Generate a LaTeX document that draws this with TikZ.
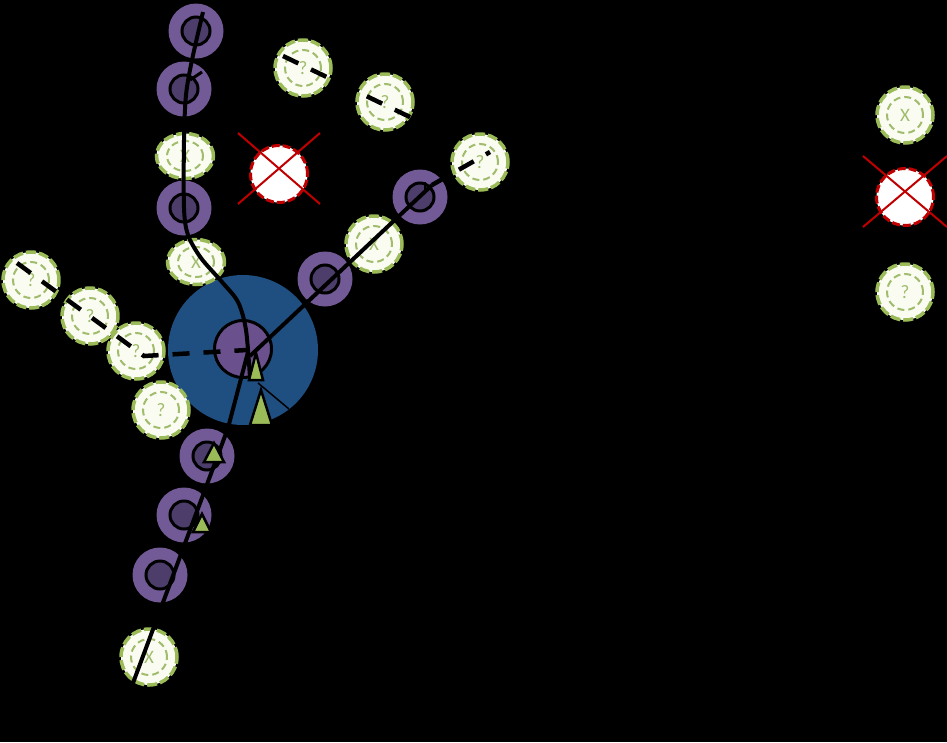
\documentclass[tikz,border=0pt]{standalone}
\usepackage{fontspec}
\setmainfont{Carlito}
\usepackage{xcolor}
\usetikzlibrary{shapes.geometric,calc}
\definecolor{cRing}{RGB}{114,90,150}
\definecolor{cDark}{RGB}{76,61,106}
\definecolor{cCore}{RGB}{106,80,140}
\definecolor{cHub}{RGB}{31,78,128}
\definecolor{cGreen}{RGB}{155,187,89}
\definecolor{cLabel}{RGB}{160,188,108}
\definecolor{cPale}{RGB}{250,252,242}
\definecolor{cRed}{RGB}{192,0,0}

\begin{document}
\begin{tikzpicture}[x=1pt,y=-1pt,font=\fontsize{19}{21}\selectfont]
\tikzset{
  mem/.style={circle,fill=cRing,minimum size=55pt,inner sep=0pt,
    path picture={\draw[fill=cDark,line width=3pt] (path picture bounding box.center) circle[radius=14pt];}},
  unkbase/.style={fill=cPale,draw=cGreen,line width=3.5pt,dash pattern=on 10pt off 3pt,inner sep=0pt,text=cLabel},
  unk/.style={unkbase,circle,minimum size=56pt,
    path picture={\draw[cLabel,line width=2pt,dash pattern=on 7pt off 4pt] (path picture bounding box.center) circle[radius=18pt];}},
  unkflat/.style={unkbase,ellipse,minimum width=57pt,minimum height=45pt,
    path picture={\draw[cLabel,line width=2pt,dash pattern=on 7pt off 4pt] (path picture bounding box.center) ellipse[x radius=18pt,y radius=15pt];}},
  gone/.style={circle,fill=white,draw=cRed,line width=3pt,dash pattern=on 8pt off 3pt,minimum size=57pt,inner sep=0pt},
  wire/.style={line width=4pt,black},
  dwire/.style={wire,line width=4.5pt,dash pattern=on 17pt off 14pt},
  tri/.style={fill=cGreen,draw=black,line width=2.5pt,line join=miter}
}
\fill[black] (0,0) rectangle (947,742);
\useasboundingbox (0,0) rectangle (947,742);

\node[circle,fill=cHub,minimum size=150pt,inner sep=0pt] (hub) at (243,350) {};
\node[circle,fill=cCore,draw=black,line width=3pt,minimum size=57pt,inner sep=0pt] (c) at (243,349) {};

\node[mem] (p1) at (196,31) {};
\node[mem] (p2) at (184,89) {};
\node[mem] (p3) at (184,208) {};
\node[mem] (p4) at (325,279) {};
\node[mem] (p5) at (420,197) {};
\node[mem] (p6) at (207,456) {};
\node[mem] (p7) at (184,515) {};
\node[mem] (p8) at (160,575) {};

\node[unk] (q1) at (303,68) {?};
\node[unk] (q2) at (385,102) {?};
\node[unk] (q3) at (480,162) {?};
\node[unk] (q4) at (31,280) {?};
\node[unk] (q5) at (90,316) {?};
\node[unk] (q6) at (136,351) {?};
\node[unk] (q7) at (161,410) {?};
\node[unkflat] (x1) at (185,156) {X};
\node[unkflat] (x2) at (196,262) {X};
\node[unk] (x3) at (374,244) {X};
\node[unk] (x4) at (149,657) {X};

\node[gone] (r1) at (279,174) {};
\draw[cRed,line width=2pt] ($(r1)+(-41,-41)$) -- ($(r1)+(41,30)$);
\draw[cRed,line width=2pt] ($(r1)+(41,-41)$) -- ($(r1)+(-41,30)$);

\node[unk] (lx) at (905,115) {X};
\node[gone] (lr) at (905,197) {};
\draw[cRed,line width=2pt] ($(lr)+(-42,-41)$) -- ($(lr)+(42,30)$);
\draw[cRed,line width=2pt] ($(lr)+(42,-41)$) -- ($(lr)+(-42,30)$);
\node[unk] (lq) at (905,292) {?};

\draw[wire] plot[smooth,tension=0.5] coordinates {($(p1)+(7,-19)$) (192,60) (186,95) (184,140) (p3.center) (188,235) (201,258) (222,282) (238,302) (246,330) ($(c)+(7,29)$)};
\draw[wire,line width=3pt] ($(p2)+(6,-9)$) -- ($(p2)+(18,-17)$);
\draw[wire] ($(c)+(7,7)$) -- ($(p5)+(12,-12)$);
\draw[wire,line width=2pt] ($(p5)+(5,-15)$) -- ($(p5)+(5,-7)$);
\draw[dwire] ($(p5)+(12,-12)$) -- ($(q3)+(10,-10)$);
\draw[dwire] ($(q1)+(-20,-12)$) -- ($(q2)+(27,16)$);
\draw[dwire] ($(q4)+(-14,-17)$) -- ($(q6)+(8,5)$) -- ($(c)+(4,1)$);
\draw[wire] ($(c)+(5,3)$) -- (228,428) -- ($(x4)+(-16,26)$);
\draw[wire,line width=1.5pt] ($(c)+(15,34)$) -- ($(hub)+(46,59)$);

\filldraw[tri] ($(c)+(13,4)$) -- ++(7,27) -- ++(-14,0) -- cycle;
\filldraw[tri] (261,390) -- ++(11,35) -- ++(-22,0) -- cycle;
\filldraw[tri] ($(p6)+(7,-13)$) -- ++(10,19) -- ++(-20,0) -- cycle;
\filldraw[tri] ($(p7)+(18,-1)$) -- ++(9,18) -- ++(-18,0) -- cycle;
\end{tikzpicture}
\end{document}
